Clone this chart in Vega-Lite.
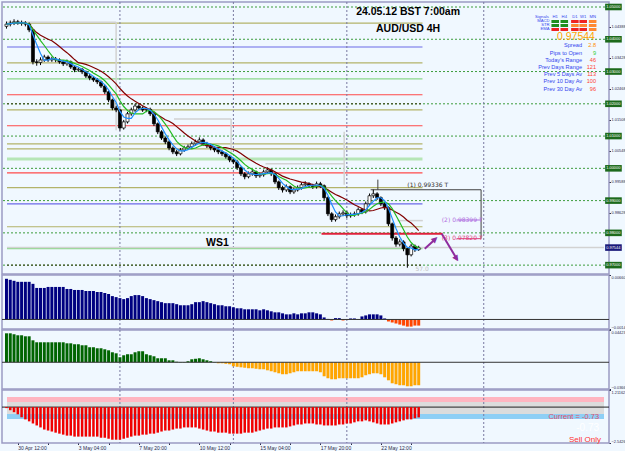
{
"$schema":"https://vega.github.io/schema/vega-lite/v6.json",
"background":"#f0f8ff",
"padding":0,
"spacing":1,
"bounds":"flush",
"config":{
 "view":{"stroke":"#9a9ac4","strokeWidth":1.5,"fill":"#f0f8ff"},
 "axis":{"labelFont":"Liberation Sans","labelFontSize":3.9,"labelColor":"#2a2a4a","tickColor":"#2a2a4a","tickSize":1.5,"labelPadding":0.5,"domain":false,"grid":false}
},
"datasets":{
 "bars":[
{"i":0,"o":1.0440,"h":1.0455,"l":1.0433,"c":1.0447,"m":0.00604,"g":0.0397,"s":-0.07},
{"i":1,"o":1.0447,"h":1.0458,"l":1.0440,"c":1.0450,"m":0.00589,"g":0.0397,"s":-0.22},
{"i":2,"o":1.0450,"h":1.0462,"l":1.0444,"c":1.0454,"m":0.00574,"g":0.0384,"s":-0.36},
{"i":3,"o":1.0454,"h":1.0460,"l":1.0445,"c":1.0451,"m":0.00559,"g":0.037,"s":-0.51},
{"i":4,"o":1.0451,"h":1.0458,"l":1.0442,"c":1.0450,"m":0.00559,"g":0.037,"s":-0.72},
{"i":5,"o":1.0450,"h":1.0456,"l":1.0440,"c":1.0447,"m":0.00559,"g":0.0356,"s":-0.87},
{"i":6,"o":1.0447,"h":1.0452,"l":1.0422,"c":1.0429,"m":0.00559,"g":0.0356,"s":-1.01},
{"i":7,"o":1.0429,"h":1.0432,"l":1.0322,"c":1.0330,"m":0.00529,"g":0.0301,"s":-1.16},
{"i":8,"o":1.0330,"h":1.0338,"l":1.0318,"c":1.0328,"m":0.00468,"g":0.0274,"s":-1.3},
{"i":9,"o":1.0328,"h":1.0344,"l":1.0320,"c":1.0336,"m":0.00468,"g":0.0274,"s":-1.44},
{"i":10,"o":1.0336,"h":1.0352,"l":1.0330,"c":1.0345,"m":0.00468,"g":0.0274,"s":-1.59},
{"i":11,"o":1.0345,"h":1.0350,"l":1.0330,"c":1.0336,"m":0.00483,"g":0.0274,"s":-1.66},
{"i":12,"o":1.0336,"h":1.0346,"l":1.0330,"c":1.0339,"m":0.00483,"g":0.0274,"s":-1.73},
{"i":13,"o":1.0339,"h":1.0345,"l":1.0329,"c":1.0336,"m":0.00483,"g":0.0274,"s":-1.81},
{"i":14,"o":1.0336,"h":1.0341,"l":1.0324,"c":1.0330,"m":0.00483,"g":0.0274,"s":-1.88},
{"i":15,"o":1.0330,"h":1.0335,"l":1.0317,"c":1.0324,"m":0.00483,"g":0.0274,"s":-1.95},
{"i":16,"o":1.0324,"h":1.0337,"l":1.0318,"c":1.0330,"m":0.00453,"g":0.026,"s":-2.02},
{"i":17,"o":1.0330,"h":1.0334,"l":1.0308,"c":1.0314,"m":0.00453,"g":0.026,"s":-2.02},
{"i":18,"o":1.0314,"h":1.0319,"l":1.0298,"c":1.0305,"m":0.00438,"g":0.0247,"s":-2.09},
{"i":19,"o":1.0305,"h":1.0313,"l":1.0299,"c":1.0307,"m":0.00438,"g":0.0247,"s":-2.09},
{"i":20,"o":1.0307,"h":1.0311,"l":1.0292,"c":1.0299,"m":0.00438,"g":0.0233,"s":-2.09},
{"i":21,"o":1.0299,"h":1.0303,"l":1.0280,"c":1.0286,"m":0.00423,"g":0.0233,"s":-2.09},
{"i":22,"o":1.0286,"h":1.0292,"l":1.0273,"c":1.0280,"m":0.00423,"g":0.0206,"s":-2.09},
{"i":23,"o":1.0280,"h":1.0286,"l":1.0268,"c":1.0274,"m":0.00423,"g":0.0206,"s":-2.09},
{"i":24,"o":1.0274,"h":1.0280,"l":1.0261,"c":1.0268,"m":0.00408,"g":0.0192,"s":-2.09},
{"i":25,"o":1.0268,"h":1.0272,"l":1.0249,"c":1.0255,"m":0.00408,"g":0.0192,"s":-2.17},
{"i":26,"o":1.0255,"h":1.0259,"l":1.0230,"c":1.0237,"m":0.00393,"g":0.0178,"s":-2.17},
{"i":27,"o":1.0237,"h":1.0241,"l":1.0205,"c":1.0212,"m":0.00378,"g":0.0164,"s":-2.24},
{"i":28,"o":1.0212,"h":1.0216,"l":1.0180,"c":1.0187,"m":0.00347,"g":0.0137,"s":-2.31},
{"i":29,"o":1.0187,"h":1.0194,"l":1.0174,"c":1.0181,"m":0.00332,"g":0.0123,"s":-2.31},
{"i":30,"o":1.0181,"h":1.0185,"l":1.0117,"c":1.0125,"m":0.00317,"g":0.0069,"s":-2.31},
{"i":31,"o":1.0125,"h":1.0150,"l":1.0120,"c":1.0144,"m":0.00302,"g":0.0096,"s":-2.24},
{"i":32,"o":1.0144,"h":1.0175,"l":1.0139,"c":1.0169,"m":0.00317,"g":0.011,"s":-2.17},
{"i":33,"o":1.0169,"h":1.0188,"l":1.0163,"c":1.0181,"m":0.00347,"g":0.011,"s":-2.09},
{"i":34,"o":1.0181,"h":1.0200,"l":1.0175,"c":1.0193,"m":0.00362,"g":0.0137,"s":-2.02},
{"i":35,"o":1.0193,"h":1.0199,"l":1.0181,"c":1.0187,"m":0.00362,"g":0.0151,"s":-2.02},
{"i":36,"o":1.0187,"h":1.0192,"l":1.0175,"c":1.0181,"m":0.00347,"g":0.0151,"s":-1.95},
{"i":37,"o":1.0181,"h":1.0190,"l":1.0174,"c":1.0183,"m":0.00317,"g":0.011,"s":-1.95},
{"i":38,"o":1.0183,"h":1.0188,"l":1.0162,"c":1.0169,"m":0.00302,"g":0.0096,"s":-1.88},
{"i":39,"o":1.0169,"h":1.0173,"l":1.0131,"c":1.0138,"m":0.00287,"g":0.0082,"s":-1.88},
{"i":40,"o":1.0138,"h":1.0142,"l":1.0106,"c":1.0113,"m":0.00272,"g":0.0055,"s":-1.81},
{"i":41,"o":1.0113,"h":1.0118,"l":1.0088,"c":1.0094,"m":0.00257,"g":0.0055,"s":-1.73},
{"i":42,"o":1.0094,"h":1.0099,"l":1.0075,"c":1.0082,"m":0.00242,"g":0.0055,"s":-1.66},
{"i":43,"o":1.0082,"h":1.0087,"l":1.0056,"c":1.0063,"m":0.00242,"g":0.0027,"s":-1.66},
{"i":44,"o":1.0063,"h":1.0068,"l":1.0044,"c":1.0051,"m":0.00242,"g":0.0027,"s":-1.59},
{"i":45,"o":1.0051,"h":1.0057,"l":1.0038,"c":1.0045,"m":0.00227,"g":0.0007,"s":-1.52},
{"i":46,"o":1.0045,"h":1.0063,"l":1.0040,"c":1.0057,"m":0.00211,"g":0.0004,"s":-1.52},
{"i":47,"o":1.0057,"h":1.0070,"l":1.0051,"c":1.0063,"m":0.00211,"g":0.0004,"s":-1.44},
{"i":48,"o":1.0063,"h":1.0074,"l":1.0057,"c":1.0067,"m":0.00211,"g":0.0014,"s":-1.44},
{"i":49,"o":1.0067,"h":1.0083,"l":1.0061,"c":1.0076,"m":0.00227,"g":0.0041,"s":-1.44},
{"i":50,"o":1.0076,"h":1.0089,"l":1.0070,"c":1.0082,"m":0.00257,"g":0.0048,"s":-1.44},
{"i":51,"o":1.0082,"h":1.0096,"l":1.0076,"c":1.0088,"m":0.00257,"g":0.0055,"s":-1.52},
{"i":52,"o":1.0088,"h":1.0093,"l":1.0070,"c":1.0076,"m":0.00272,"g":0.0041,"s":-1.59},
{"i":53,"o":1.0076,"h":1.0082,"l":1.0063,"c":1.0070,"m":0.00257,"g":0.0027,"s":-1.66},
{"i":54,"o":1.0070,"h":1.0076,"l":1.0056,"c":1.0063,"m":0.00242,"g":0.0014,"s":-1.73},
{"i":55,"o":1.0063,"h":1.0069,"l":1.0050,"c":1.0057,"m":0.00227,"g":0.0004,"s":-1.73},
{"i":56,"o":1.0057,"h":1.0062,"l":1.0044,"c":1.0051,"m":0.00211,"g":-0.0014,"s":-1.81},
{"i":57,"o":1.0051,"h":1.0056,"l":1.0038,"c":1.0045,"m":0.00211,"g":-0.0014,"s":-1.81},
{"i":58,"o":1.0045,"h":1.0050,"l":1.0030,"c":1.0036,"m":0.00196,"g":-0.0021,"s":-1.81},
{"i":59,"o":1.0036,"h":1.0041,"l":1.0019,"c":1.0026,"m":0.00196,"g":-0.0027,"s":-1.88},
{"i":60,"o":1.0026,"h":1.0032,"l":1.0013,"c":1.0020,"m":0.00181,"g":-0.0055,"s":-1.88},
{"i":61,"o":1.0020,"h":1.0025,"l":0.9995,"c":1.0002,"m":0.00166,"g":-0.0062,"s":-1.88},
{"i":62,"o":1.0002,"h":1.0006,"l":0.9976,"c":0.9983,"m":0.00166,"g":-0.0069,"s":-1.88},
{"i":63,"o":0.9983,"h":0.9988,"l":0.9966,"c":0.9974,"m":0.00151,"g":-0.0075,"s":-1.81},
{"i":64,"o":0.9974,"h":0.9990,"l":0.9969,"c":0.9983,"m":0.00151,"g":-0.0082,"s":-1.81},
{"i":65,"o":0.9983,"h":0.9996,"l":0.9977,"c":0.9989,"m":0.00151,"g":-0.0082,"s":-1.81},
{"i":66,"o":0.9989,"h":0.9993,"l":0.9970,"c":0.9977,"m":0.00151,"g":-0.0089,"s":-1.73},
{"i":67,"o":0.9977,"h":0.9987,"l":0.9971,"c":0.9980,"m":0.00136,"g":-0.0096,"s":-1.66},
{"i":68,"o":0.9980,"h":0.9996,"l":0.9974,"c":0.9989,"m":0.00151,"g":-0.0096,"s":-1.59},
{"i":69,"o":0.9989,"h":1.0003,"l":0.9983,"c":0.9995,"m":0.00136,"g":-0.011,"s":-1.52},
{"i":70,"o":0.9995,"h":0.9999,"l":0.9976,"c":0.9983,"m":0.00121,"g":-0.0123,"s":-1.52},
{"i":71,"o":0.9983,"h":0.9987,"l":0.9951,"c":0.9958,"m":0.00106,"g":-0.0137,"s":-1.44},
{"i":72,"o":0.9958,"h":0.9962,"l":0.9933,"c":0.9940,"m":0.00106,"g":-0.0151,"s":-1.44},
{"i":73,"o":0.9940,"h":0.9946,"l":0.9925,"c":0.9933,"m":0.00091,"g":-0.0164,"s":-1.44},
{"i":74,"o":0.9933,"h":0.9950,"l":0.9927,"c":0.9943,"m":0.00076,"g":-0.0164,"s":-1.44},
{"i":75,"o":0.9943,"h":0.9947,"l":0.9920,"c":0.9927,"m":0.00076,"g":-0.0151,"s":-1.37},
{"i":76,"o":0.9927,"h":0.9940,"l":0.9921,"c":0.9933,"m":0.00091,"g":-0.0137,"s":-1.3},
{"i":77,"o":0.9933,"h":0.9947,"l":0.9928,"c":0.9940,"m":0.00076,"g":-0.0123,"s":-1.23},
{"i":78,"o":0.9940,"h":0.9956,"l":0.9934,"c":0.9949,"m":0.00091,"g":-0.0123,"s":-1.23},
{"i":79,"o":0.9949,"h":0.9960,"l":0.9943,"c":0.9952,"m":0.00091,"g":-0.0123,"s":-1.16},
{"i":80,"o":0.9952,"h":0.9957,"l":0.9939,"c":0.9946,"m":0.00106,"g":-0.0123,"s":-1.16},
{"i":81,"o":0.9946,"h":0.9952,"l":0.9936,"c":0.9943,"m":0.00106,"g":-0.0123,"s":-1.16},
{"i":82,"o":0.9943,"h":0.9959,"l":0.9937,"c":0.9952,"m":0.00091,"g":-0.0123,"s":-1.23},
{"i":83,"o":0.9952,"h":0.9958,"l":0.9939,"c":0.9946,"m":0.00076,"g":-0.0137,"s":-1.23},
{"i":84,"o":0.9946,"h":0.9950,"l":0.9902,"c":0.9909,"m":0.0003,"g":-0.0192,"s":-1.3},
{"i":85,"o":0.9909,"h":0.9913,"l":0.9852,"c":0.9859,"m":0.00008,"g":-0.0219,"s":-1.3},
{"i":86,"o":0.9859,"h":0.9864,"l":0.9834,"c":0.9841,"m":-0.00015,"g":-0.0233,"s":-1.3},
{"i":87,"o":0.9841,"h":0.9857,"l":0.9835,"c":0.9850,"m":0.0002,"g":-0.0233,"s":-1.3},
{"i":88,"o":0.9850,"h":0.9866,"l":0.9844,"c":0.9859,"m":0.0002,"g":-0.0219,"s":-1.23},
{"i":89,"o":0.9859,"h":0.9870,"l":0.9852,"c":0.9862,"m":-0.00015,"g":-0.0219,"s":-1.23},
{"i":90,"o":0.9862,"h":0.9868,"l":0.9846,"c":0.9853,"m":-0.00008,"g":-0.0219,"s":-1.16},
{"i":91,"o":0.9853,"h":0.9863,"l":0.9847,"c":0.9856,"m":0.00015,"g":-0.0219,"s":-1.16},
{"i":92,"o":0.9856,"h":0.9866,"l":0.9850,"c":0.9859,"m":0.00015,"g":-0.0219,"s":-1.08},
{"i":93,"o":0.9859,"h":0.9879,"l":0.9853,"c":0.9872,"m":0.00005,"g":-0.0219,"s":-1.01},
{"i":94,"o":0.9872,"h":0.9877,"l":0.9858,"c":0.9865,"m":0.00045,"g":-0.0206,"s":-1.01},
{"i":95,"o":0.9865,"h":0.9897,"l":0.9860,"c":0.9890,"m":0.0006,"g":-0.0178,"s":-0.94},
{"i":96,"o":0.9890,"h":0.9922,"l":0.9885,"c":0.9915,"m":0.00076,"g":-0.0164,"s":-1.01},
{"i":97,"o":0.9915,"h":0.9934,"l":0.9908,"c":0.9921,"m":0.00076,"g":-0.0151,"s":-1.08},
{"i":98,"o":0.9921,"h":0.9926,"l":0.9902,"c":0.9909,"m":0.00076,"g":-0.0151,"s":-1.16},
{"i":99,"o":0.9909,"h":0.9913,"l":0.9883,"c":0.9890,"m":0.0006,"g":-0.0164,"s":-1.23},
{"i":100,"o":0.9890,"h":0.9895,"l":0.9871,"c":0.9878,"m":0.00015,"g":-0.0206,"s":-1.23},
{"i":101,"o":0.9878,"h":0.9882,"l":0.9821,"c":0.9828,"m":-0.0003,"g":-0.0247,"s":-1.23},
{"i":102,"o":0.9828,"h":0.9832,"l":0.9776,"c":0.9784,"m":-0.00045,"g":-0.0288,"s":-1.16},
{"i":103,"o":0.9784,"h":0.9790,"l":0.9757,"c":0.9765,"m":-0.0006,"g":-0.0301,"s":-1.08},
{"i":104,"o":0.9765,"h":0.9780,"l":0.9758,"c":0.9772,"m":-0.00076,"g":-0.0315,"s":-1.01},
{"i":105,"o":0.9772,"h":0.9777,"l":0.9743,"c":0.9751,"m":-0.00091,"g":-0.0315,"s":-0.94},
{"i":106,"o":0.9751,"h":0.9756,"l":0.9692,"c":0.9732,"m":-0.00106,"g":-0.0329,"s":-0.87},
{"i":107,"o":0.9732,"h":0.9766,"l":0.9727,"c":0.9759,"m":-0.00106,"g":-0.0329,"s":-0.87},
{"i":108,"o":0.9759,"h":0.9764,"l":0.9741,"c":0.9748,"m":-0.00091,"g":-0.0315,"s":-0.79},
{"i":109,"o":0.9748,"h":0.9760,"l":0.9744,"c":0.9754,"m":-0.00091,"g":-0.0315,"s":-0.73}
 ],
 "grid":[{"p":1.05},{"p":1.04},{"p":1.03},{"p":1.02},{"p":1.01},{"p":1.0},{"p":0.99},{"p":0.98},{"p":0.97}],
 "levels":[
  {"p":1.0450,"kind":"D","a":0.14,"b":110},{"p":1.0376,"kind":"Q","a":0.14,"b":110},{"p":1.0327,"kind":"D","a":0.14,"b":110},{"p":1.0277,"kind":"W","a":0.14,"b":110},
  {"p":1.0228,"kind":"M","a":0.14,"b":110},{"p":1.0181,"kind":"D","a":0.14,"b":110},{"p":1.0132,"kind":"M","a":0.14,"b":110},{"p":1.0076,"kind":"D","a":0.14,"b":110},
  {"p":1.0060,"kind":"D","a":0.14,"b":110},{"p":0.9986,"kind":"M","a":0.14,"b":110},{"p":0.9940,"kind":"D","a":0.14,"b":110},{"p":0.9890,"kind":"Q","a":0.14,"b":110},
  {"p":0.9819,"kind":"D","a":0.14,"b":110},{"p":0.9751,"kind":"W","a":0.14,"b":110},
  {"p":1.0029,"kind":"Y","a":0.14,"b":110},
  {"p":1.02,"kind":"K","a":0.14,"b":110},{"p":0.97,"kind":"K","a":0.14,"b":110},
  {"p":0.9797,"kind":"S","a":83.3,"b":115.3}
 ],
 "weeks":[{"i":30},{"i":60},{"i":90},{"i":126.2}],
 "segs":[
  {"x1":0.14,"x2":29,"y1":1.0453,"y2":1.0453,"kind":"day"},{"x1":29,"x2":29,"y1":1.0453,"y2":1.0118,"kind":"day"},
  {"x1":44.3,"x2":59.4,"y1":1.0153,"y2":1.0153,"kind":"day"},{"x1":59.4,"x2":59.4,"y1":1.0153,"y2":1.0026,"kind":"day"},
  {"x1":68.5,"x2":89.3,"y1":1.0014,"y2":1.0014,"kind":"day"},{"x1":89.3,"x2":89.3,"y1":1.0113,"y2":0.9949,"kind":"day"},
  {"x1":103.4,"x2":110.1,"y1":0.9838,"y2":0.9838,"kind":"day"},
  {"x1":0.14,"x2":158,"y1":0.97544,"y2":0.97544,"kind":"day"},
  {"x1":96.3,"x2":125.5,"y1":0.99336,"y2":0.99336,"kind":"T1"},
  {"x1":125.5,"x2":125.5,"y1":0.99336,"y2":0.9782,"kind":"T1"},
  {"x1":98.2,"x2":98.2,"y1":0.9965,"y2":0.99336,"kind":"T1"},
  {"x1":119,"x2":125.5,"y1":0.98399,"y2":0.98399,"kind":"T2"},
  {"x1":119,"x2":125.5,"y1":0.9782,"y2":0.9782,"kind":"T3"},
  {"x1":110.6,"x2":113.5,"y1":0.9751,"y2":0.9782,"kind":"arrow"},
  {"x1":115.1,"x2":119.2,"y1":0.9797,"y2":0.9717,"kind":"arrow"}
 ],
 "notes":[
  {"t":"(1) 0.99336  T","ix":106,"p":0.9949,"kind":"T1"},
  {"t":"(2) 0.98399  T","ix":115.1,"p":0.98405,"kind":"T2"},
  {"t":"(3) 0.97820  T","ix":115.1,"p":0.97848,"kind":"T3"},
  {"t":"57.0","ix":109.9,"p":0.9689,"kind":"faint"},
  {"t":"WS1","ix":55.8,"p":0.97693,"kind":"big"},
  {"t":"24.05.12   BST 7:00am","ix":106.2,"p":1.04845,"kind":"big"},
  {"t":"AUD/USD  4H","ix":106.2,"p":1.04319,"kind":"big"},
  {"t":"0.97544","ix":155.6,"p":1.04071,"kind":"price"},
  {"t":"Signals","ix":143.4,"p":1.0469,"kind":"sig"},
  {"t":"MACD","ix":143.6,"p":1.04551,"kind":"sig"},
  {"t":"STR","ix":143.6,"p":1.04427,"kind":"sig"},
  {"t":"EMA","ix":143.6,"p":1.04303,"kind":"sig"},
  {"t":"Spread","ix":152.2,"p":1.03814,"kind":"lab"},
  {"t":"Pips to Open","ix":152.2,"p":1.03585,"kind":"lab"},
  {"t":"Today’s Range","ix":152.2,"p":1.03368,"kind":"lab"},
  {"t":"Prev Days Range","ix":152.2,"p":1.03142,"kind":"lab"},
  {"t":"Prev 5 Days Av","ix":152.2,"p":1.02916,"kind":"lab"},
  {"t":"Prev 10 Day Av","ix":152.2,"p":1.0270,"kind":"lab"},
  {"t":"Prev 30 Day Av","ix":152.2,"p":1.02471,"kind":"lab"},
  {"t":"2.8","ix":155.9,"p":1.03814,"kind":"spread"},
  {"t":"9","ix":155.9,"p":1.03585,"kind":"open"},
  {"t":"46","ix":155.9,"p":1.03368,"kind":"range"},
  {"t":"121","ix":155.9,"p":1.03142,"kind":"range"},
  {"t":"113","ix":155.9,"p":1.02916,"kind":"range"},
  {"t":"100","ix":155.9,"p":1.0270,"kind":"range"},
  {"t":"96","ix":155.9,"p":1.02471,"kind":"range"},
  {"t":"H1","ix":145.1,"p":1.0469,"kind":"head"},
  {"t":"H4","ix":147.5,"p":1.0469,"kind":"head"},
  {"t":"D1","ix":150.3,"p":1.0469,"kind":"head"},
  {"t":"W1","ix":152.5,"p":1.0469,"kind":"head"},
  {"t":"MN","ix":155,"p":1.0469,"kind":"head"},
  {"t":"▲","ix":113.3,"p":0.9780,"kind":"up"},
  {"t":"▲","ix":119.0,"p":0.9720,"kind":"down"}
 ],
 "sig":[
  {"x1":144.1,"x2":146.1,"y1":1.04505,"y2":1.04597,"state":"buy"},{"x1":146.5,"x2":148.5,"y1":1.04505,"y2":1.04597,"state":"buy"},{"x1":149.3,"x2":151.3,"y1":1.04505,"y2":1.04597,"state":"sell"},{"x1":151.5,"x2":153.5,"y1":1.04505,"y2":1.04597,"state":"sell"},{"x1":154,"x2":156,"y1":1.04505,"y2":1.04597,"state":"weak"},
  {"x1":144.1,"x2":146.1,"y1":1.04381,"y2":1.04473,"state":"buy"},{"x1":146.5,"x2":148.5,"y1":1.04381,"y2":1.04473,"state":"buy"},{"x1":149.3,"x2":151.3,"y1":1.04381,"y2":1.04473,"state":"weak"},{"x1":151.5,"x2":153.5,"y1":1.04381,"y2":1.04473,"state":"weak"},{"x1":154,"x2":156,"y1":1.04381,"y2":1.04473,"state":"weak"},
  {"x1":144.1,"x2":146.1,"y1":1.04257,"y2":1.04349,"state":"sell"},{"x1":146.5,"x2":148.5,"y1":1.04257,"y2":1.04349,"state":"sell"},{"x1":149.3,"x2":151.3,"y1":1.04257,"y2":1.04349,"state":"sell"},{"x1":151.5,"x2":153.5,"y1":1.04257,"y2":1.04349,"state":"sell"},{"x1":154,"x2":156,"y1":1.04257,"y2":1.04349,"state":"weak"}
 ],
 "tags":[
  {"t":"1.05000","a":158.3,"b":162.7,"mid":160.45,"lo":1.04898,"hi":1.05102,"p":1.05,"kind":"round"},
  {"t":"1.04000","a":158.3,"b":162.7,"mid":160.45,"lo":1.03898,"hi":1.04102,"p":1.04,"kind":"round"},
  {"t":"1.03000","a":158.3,"b":162.7,"mid":160.45,"lo":1.02898,"hi":1.03102,"p":1.03,"kind":"round"},
  {"t":"1.02000","a":158.3,"b":162.7,"mid":160.45,"lo":1.01898,"hi":1.02102,"p":1.02,"kind":"round"},
  {"t":"1.01000","a":158.3,"b":162.7,"mid":160.45,"lo":1.00898,"hi":1.01102,"p":1.01,"kind":"round"},
  {"t":"1.00000","a":158.3,"b":162.7,"mid":160.45,"lo":0.99898,"hi":1.00102,"p":1.0,"kind":"round"},
  {"t":"0.99000","a":158.3,"b":162.7,"mid":160.45,"lo":0.98898,"hi":0.99102,"p":0.99,"kind":"round"},
  {"t":"0.98000","a":158.3,"b":162.7,"mid":160.45,"lo":0.97898,"hi":0.98102,"p":0.98,"kind":"round"},
  {"t":"0.97000","a":158.3,"b":162.7,"mid":160.45,"lo":0.96898,"hi":0.97102,"p":0.97,"kind":"round"},
  {"t":"0.97544","a":158.3,"b":162.7,"mid":160.45,"lo":0.97442,"hi":0.97646,"p":0.97544,"kind":"bid"}
 ],
 "zero":[{"z":0}],
 "bands":[{"a":0.14,"b":158,"y1":0.72,"y2":0.36,"kind":"pink"},{"a":0.14,"b":158,"y1":0.36,"y2":-0.49,"kind":"gray"},{"a":0.14,"b":158,"y1":-0.49,"y2":-0.85,"kind":"blue"}],
 "p4notes":[{"t":"Current = -0.73","ix":156.7,"v":-0.7,"kind":"cur"},{"t":"-0.73","ix":156.7,"v":-1.48,"kind":"val"},{"t":"Sell Only","ix":157.2,"v":-2.33,"kind":"sell"}]
},
"vconcat":[
 {
  "width":607,"height":272,
  "layer":[
   {"data":{"name":"grid"},"mark":{"type":"rule","color":"#3c9c3c","strokeDash":[2,2],"strokeWidth":1},
    "encoding":{"y":{"field":"p","type":"quantitative","scale":{"domain":[0.96725,1.05155],"nice":false,"zero":false},
      "axis":{"orient":"right","title":null,"format":".5f","values":[0.98628,0.99588,1.00548,1.01508,1.02468,1.03428,1.04388]}}}},
   {"data":{"name":"levels"},"transform":[{"filter":"datum.kind=='D'"}],"mark":{"type":"rule","strokeWidth":1.2,"color":"#b3b36a","clip":true},
    "encoding":{"x":{"field":"a","type":"quantitative","scale":{"domain":[0.14,158],"nice":false,"zero":false},"axis":null},
     "x2":{"field":"b"},"y":{"field":"p","type":"quantitative"}}},
   {"data":{"name":"levels"},"transform":[{"filter":"datum.kind=='Q'"}],"mark":{"type":"rule","strokeWidth":1.2,"color":"#6a6ae8","clip":true},
    "encoding":{"x":{"field":"a","type":"quantitative"},"x2":{"field":"b"},"y":{"field":"p","type":"quantitative"}}},
   {"data":{"name":"levels"},"transform":[{"filter":"datum.kind=='W'"}],"mark":{"type":"rule","strokeWidth":1.2,"color":"#8cd88c","clip":true},
    "encoding":{"x":{"field":"a","type":"quantitative"},"x2":{"field":"b"},"y":{"field":"p","type":"quantitative"}}},
   {"data":{"name":"levels"},"transform":[{"filter":"datum.kind=='M'"}],"mark":{"type":"rule","strokeWidth":1.2,"color":"#ff4a4a","clip":true},
    "encoding":{"x":{"field":"a","type":"quantitative"},"x2":{"field":"b"},"y":{"field":"p","type":"quantitative"}}},
   {"data":{"name":"levels"},"transform":[{"filter":"datum.kind=='Y'"}],"mark":{"type":"rule","strokeWidth":3,"color":"#b6e6b6","clip":true},
    "encoding":{"x":{"field":"a","type":"quantitative"},"x2":{"field":"b"},"y":{"field":"p","type":"quantitative"}}},
   {"data":{"name":"levels"},"transform":[{"filter":"datum.kind=='K'"}],"mark":{"type":"rule","strokeWidth":1,"color":"#3a3a10","strokeDash":[2,2],"clip":true},
    "encoding":{"x":{"field":"a","type":"quantitative"},"x2":{"field":"b"},"y":{"field":"p","type":"quantitative"}}},
   {"data":{"name":"weeks"},"mark":{"type":"rule","color":"#7878a0","strokeDash":[2,2],"strokeWidth":1},
    "encoding":{"x":{"field":"i","type":"quantitative"}}},
   {"data":{"name":"segs"},"transform":[{"filter":"datum.kind=='day'"}],"mark":{"type":"rule","color":"#d2d2d2","strokeWidth":1.5,"clip":true},
    "encoding":{"x":{"field":"x1","type":"quantitative"},"x2":{"field":"x2"},"y":{"field":"y1","type":"quantitative"},"y2":{"field":"y2"}}},
   {"data":{"name":"levels"},"transform":[{"filter":"datum.kind=='S'"}],"mark":{"type":"rule","strokeWidth":2,"color":"#e0203a","clip":true},
    "encoding":{"x":{"field":"a","type":"quantitative"},"x2":{"field":"b"},"y":{"field":"p","type":"quantitative"}}},
   {"data":{"name":"segs"},"transform":[{"filter":"datum.kind=='T1'"}],"mark":{"type":"rule","strokeWidth":1,"color":"#404040"},
    "encoding":{"x":{"field":"x1","type":"quantitative"},"x2":{"field":"x2"},"y":{"field":"y1","type":"quantitative"},"y2":{"field":"y2"}}},
   {"data":{"name":"segs"},"transform":[{"filter":"datum.kind=='T2'"}],"mark":{"type":"rule","strokeWidth":1,"color":"#b070e0"},
    "encoding":{"x":{"field":"x1","type":"quantitative"},"x2":{"field":"x2"},"y":{"field":"y1","type":"quantitative"},"y2":{"field":"y2"}}},
   {"data":{"name":"segs"},"transform":[{"filter":"datum.kind=='T3'"}],"mark":{"type":"rule","strokeWidth":1,"color":"#e0407a"},
    "encoding":{"x":{"field":"x1","type":"quantitative"},"x2":{"field":"x2"},"y":{"field":"y1","type":"quantitative"},"y2":{"field":"y2"}}},
   {"data":{"name":"bars"},"mark":{"type":"rule","color":"#000000","strokeWidth":1,"clip":true},
    "encoding":{"x":{"field":"i","type":"quantitative"},"y":{"field":"l","type":"quantitative"},"y2":{"field":"h"}}},
   {"data":{"name":"bars"},"mark":{"type":"bar","width":3,"stroke":"#000000","strokeWidth":0.7,"clip":true},
    "encoding":{"x":{"field":"i","type":"quantitative"},"y":{"field":"o","type":"quantitative"},"y2":{"field":"c"},
     "fill":{"condition":{"test":"datum.c>=datum.o","value":"#ffffff"},"value":"#000000"}}},
   {"data":{"name":"bars"},"transform":[{"window":[{"op":"mean","field":"c","as":"ma"}],"frame":[-12,0],"sort":[{"field":"i"}]}],
    "mark":{"type":"line","color":"#800000","strokeWidth":1.2,"clip":true},
    "encoding":{"x":{"field":"i","type":"quantitative"},"y":{"field":"ma","type":"quantitative"}}},
   {"data":{"name":"bars"},"transform":[{"window":[{"op":"mean","field":"c","as":"ma"}],"frame":[-6,0],"sort":[{"field":"i"}]}],
    "mark":{"type":"line","color":"#22bb22","strokeWidth":1.2,"clip":true},
    "encoding":{"x":{"field":"i","type":"quantitative"},"y":{"field":"ma","type":"quantitative"}}},
   {"data":{"name":"bars"},"transform":[{"window":[{"op":"mean","field":"c","as":"ma"}],"frame":[-3,0],"sort":[{"field":"i"}]}],
    "mark":{"type":"line","color":"#1e90ff","strokeWidth":1.2,"clip":true},
    "encoding":{"x":{"field":"i","type":"quantitative"},"y":{"field":"ma","type":"quantitative"}}},
   {"data":{"name":"segs"},"transform":[{"filter":"datum.kind=='arrow'"}],"mark":{"type":"rule","color":"#8e2c9e","strokeWidth":2},
    "encoding":{"x":{"field":"x1","type":"quantitative"},"x2":{"field":"x2"},"y":{"field":"y1","type":"quantitative"},"y2":{"field":"y2"}}},
   {"data":{"name":"notes"},"transform":[{"filter":"datum.kind=='up'"}],"mark":{"type":"text","fontSize":8,"color":"#8e2c9e","angle":48,"baseline":"middle","font":"DejaVu Sans"},
    "encoding":{"x":{"field":"ix","type":"quantitative"},"y":{"field":"p","type":"quantitative"},"text":{"field":"t"}}},
   {"data":{"name":"notes"},"transform":[{"filter":"datum.kind=='down'"}],"mark":{"type":"text","fontSize":8,"color":"#8e2c9e","angle":148,"baseline":"middle","font":"DejaVu Sans"},
    "encoding":{"x":{"field":"ix","type":"quantitative"},"y":{"field":"p","type":"quantitative"},"text":{"field":"t"}}},
   {"data":{"name":"notes"},"transform":[{"filter":"datum.kind=='T1'"}],"mark":{"type":"text","align":"left","baseline":"middle","fontSize":6,"font":"DejaVu Sans","color":"#303030"},
    "encoding":{"x":{"field":"ix","type":"quantitative"},"y":{"field":"p","type":"quantitative"},"text":{"field":"t"}}},
   {"data":{"name":"notes"},"transform":[{"filter":"datum.kind=='T2'"}],"mark":{"type":"text","align":"left","baseline":"middle","fontSize":6,"font":"DejaVu Sans","color":"#b070e0"},
    "encoding":{"x":{"field":"ix","type":"quantitative"},"y":{"field":"p","type":"quantitative"},"text":{"field":"t"}}},
   {"data":{"name":"notes"},"transform":[{"filter":"datum.kind=='T3'"}],"mark":{"type":"text","align":"left","baseline":"middle","fontSize":6,"font":"DejaVu Sans","color":"#e0407a"},
    "encoding":{"x":{"field":"ix","type":"quantitative"},"y":{"field":"p","type":"quantitative"},"text":{"field":"t"}}},
   {"data":{"name":"notes"},"transform":[{"filter":"datum.kind=='faint'"}],"mark":{"type":"text","fontSize":6,"color":"#c4c4c4","font":"DejaVu Sans"},
    "encoding":{"x":{"field":"ix","type":"quantitative"},"y":{"field":"p","type":"quantitative"},"text":{"field":"t"}}},
   {"data":{"name":"notes"},"transform":[{"filter":"datum.kind=='big'"}],"mark":{"type":"text","fontSize":10.5,"fontWeight":"bold","color":"#000000","baseline":"middle","font":"Liberation Sans"},
    "encoding":{"x":{"field":"ix","type":"quantitative"},"y":{"field":"p","type":"quantitative"},"text":{"field":"t"}}},
   {"data":{"name":"notes"},"transform":[{"filter":"datum.kind=='price'"}],"mark":{"type":"text","align":"right","baseline":"middle","fontSize":10.5,"color":"#ffa500","font":"Liberation Sans"},
    "encoding":{"x":{"field":"ix","type":"quantitative"},"y":{"field":"p","type":"quantitative"},"text":{"field":"t"}}},
   {"data":{"name":"notes"},"transform":[{"filter":"datum.kind=='sig'"}],"mark":{"type":"text","align":"right","baseline":"middle","fontSize":4.2,"color":"#3344ee","font":"Liberation Sans"},
    "encoding":{"x":{"field":"ix","type":"quantitative"},"y":{"field":"p","type":"quantitative"},"text":{"field":"t"}}},
   {"data":{"name":"notes"},"transform":[{"filter":"datum.kind=='head'"}],"mark":{"type":"text","baseline":"middle","fontSize":4.2,"color":"#3344ee","font":"Liberation Sans"},
    "encoding":{"x":{"field":"ix","type":"quantitative"},"y":{"field":"p","type":"quantitative"},"text":{"field":"t"}}},
   {"data":{"name":"notes"},"transform":[{"filter":"datum.kind=='lab'"}],"mark":{"type":"text","align":"right","baseline":"middle","fontSize":5.6,"color":"#3344ee","font":"Liberation Sans"},
    "encoding":{"x":{"field":"ix","type":"quantitative"},"y":{"field":"p","type":"quantitative"},"text":{"field":"t"}}},
   {"data":{"name":"notes"},"transform":[{"filter":"datum.kind=='spread'"}],"mark":{"type":"text","align":"right","baseline":"middle","fontSize":5.6,"color":"#ff8c00","font":"Liberation Sans"},
    "encoding":{"x":{"field":"ix","type":"quantitative"},"y":{"field":"p","type":"quantitative"},"text":{"field":"t"}}},
   {"data":{"name":"notes"},"transform":[{"filter":"datum.kind=='open'"}],"mark":{"type":"text","align":"right","baseline":"middle","fontSize":5.6,"color":"#33cc33","font":"Liberation Sans"},
    "encoding":{"x":{"field":"ix","type":"quantitative"},"y":{"field":"p","type":"quantitative"},"text":{"field":"t"}}},
   {"data":{"name":"notes"},"transform":[{"filter":"datum.kind=='range'"}],"mark":{"type":"text","align":"right","baseline":"middle","fontSize":5.6,"color":"#ff4433","font":"Liberation Sans"},
    "encoding":{"x":{"field":"ix","type":"quantitative"},"y":{"field":"p","type":"quantitative"},"text":{"field":"t"}}},
   {"data":{"name":"sig"},"transform":[{"filter":"datum.state=='buy'"}],"mark":{"type":"rect","color":"#1f8f1f"},
    "encoding":{"x":{"field":"x1","type":"quantitative"},"x2":{"field":"x2"},"y":{"field":"y1","type":"quantitative"},"y2":{"field":"y2"}}},
   {"data":{"name":"sig"},"transform":[{"filter":"datum.state=='sell'"}],"mark":{"type":"rect","color":"#ee2222"},
    "encoding":{"x":{"field":"x1","type":"quantitative"},"x2":{"field":"x2"},"y":{"field":"y1","type":"quantitative"},"y2":{"field":"y2"}}},
   {"data":{"name":"sig"},"transform":[{"filter":"datum.state=='weak'"}],"mark":{"type":"rect","color":"#ff8833"},
    "encoding":{"x":{"field":"x1","type":"quantitative"},"x2":{"field":"x2"},"y":{"field":"y1","type":"quantitative"},"y2":{"field":"y2"}}},
   {"data":{"name":"tags"},"transform":[{"filter":"datum.kind=='round'"}],"mark":{"type":"rect","color":"#1c6a1c"},
    "encoding":{"x":{"field":"a","type":"quantitative"},"x2":{"field":"b"},"y":{"field":"lo","type":"quantitative"},"y2":{"field":"hi"}}},
   {"data":{"name":"tags"},"transform":[{"filter":"datum.kind=='bid'"}],"mark":{"type":"rect","color":"#1a1a7a"},
    "encoding":{"x":{"field":"a","type":"quantitative"},"x2":{"field":"b"},"y":{"field":"lo","type":"quantitative"},"y2":{"field":"hi"}}},
   {"data":{"name":"tags"},"mark":{"type":"text","fontSize":3.9,"color":"#ffffff","font":"Liberation Sans","baseline":"middle"},
    "encoding":{"x":{"field":"mid","type":"quantitative"},"y":{"field":"p","type":"quantitative"},"text":{"field":"t"}}}
  ]
 },
 {
  "width":607,"height":54,
  "layer":[
   {"data":{"name":"weeks"},"mark":{"type":"rule","color":"#7878a0","strokeDash":[2,2],"strokeWidth":1},
    "encoding":{"x":{"field":"i","type":"quantitative","scale":{"domain":[0.14,158],"nice":false,"zero":false},"axis":null}}},
   {"data":{"name":"bars"},"mark":{"type":"bar","width":3,"clip":true},
    "encoding":{"x":{"field":"i","type":"quantitative"},
     "y":{"field":"m","type":"quantitative","scale":{"domain":[-0.001417,0.006603],"nice":false,"zero":false},
      "axis":{"orient":"right","title":null,"values":[-0.001417,0,0.006603],"format":".6f","labelFlush":true,"labelExpr":"datum.value==0?'0.00':datum.label"}},
     "y2":{"datum":0},
     "color":{"condition":{"test":"datum.m>=0","value":"#000080"},"value":"#ff4500"}}},
   {"data":{"name":"zero"},"mark":{"type":"rule","color":"#333333","strokeWidth":1},"encoding":{"y":{"field":"z","type":"quantitative"}}}
  ]
 },
 {
  "width":607,"height":59,
  "layer":[
   {"data":{"name":"weeks"},"mark":{"type":"rule","color":"#7878a0","strokeDash":[2,2],"strokeWidth":1},
    "encoding":{"x":{"field":"i","type":"quantitative","scale":{"domain":[0.14,158],"nice":false,"zero":false},"axis":null}}},
   {"data":{"name":"bars"},"mark":{"type":"bar","width":3,"clip":true},
    "encoding":{"x":{"field":"i","type":"quantitative"},
     "y":{"field":"g","type":"quantitative","scale":{"domain":[-0.03664,0.044231],"nice":false,"zero":false},
      "axis":{"orient":"right","title":null,"values":[-0.03664,0,0.044231],"format":".6f","labelFlush":true,"labelExpr":"datum.value==0?'0.00':datum.label"}},
     "y2":{"datum":0},
     "color":{"condition":{"test":"datum.g>=0","value":"#006400"},"value":"#ffa500"}}},
   {"data":{"name":"zero"},"mark":{"type":"rule","color":"#333333","strokeWidth":1},"encoding":{"y":{"field":"z","type":"quantitative"}}}
  ]
 },
 {
  "width":607,"height":53,
  "layer":[
   {"data":{"name":"bands"},"transform":[{"filter":"datum.kind=='pink'"}],"mark":{"type":"rect","color":"#ffb6c1"},
    "encoding":{"x":{"field":"a","type":"quantitative","scale":{"domain":[0.14,158],"nice":false,"zero":false},
      "axis":{"orient":"bottom","title":null,"values":[3,11,19,27,35,43,51,59,67,75,83,91,99,107],"labelAlign":"left","labelFontSize":5,
       "labelExpr":"datum.value==3?'30 Apr 12:00':datum.value==11?'1 May 20:00':datum.value==19?'3 May 04:00':datum.value==27?'4 May 12:00':datum.value==35?'7 May 20:00':datum.value==43?'9 May 04:00':datum.value==51?'10 May 12:00':datum.value==59?'11 May 20:00':datum.value==67?'15 May 04:00':datum.value==75?'16 May 12:00':datum.value==83?'17 May 20:00':datum.value==91?'21 May 04:00':datum.value==99?'22 May 12:00':'23 May 20:00'"}},
     "x2":{"field":"b"},
     "y":{"field":"y1","type":"quantitative","scale":{"domain":[-2.54264,1.21162],"nice":false,"zero":false},
      "axis":{"orient":"right","title":null,"values":[-2.54264,0,1.21162],"format":".5f","labelFlush":true,"labelExpr":"datum.value==0?'0.00':datum.label"}},
     "y2":{"field":"y2"}}},
   {"data":{"name":"bands"},"transform":[{"filter":"datum.kind=='gray'"}],"mark":{"type":"rect","color":"#dcdcdc"},
    "encoding":{"x":{"field":"a","type":"quantitative"},"x2":{"field":"b"},"y":{"field":"y1","type":"quantitative"},"y2":{"field":"y2"}}},
   {"data":{"name":"bands"},"transform":[{"filter":"datum.kind=='blue'"}],"mark":{"type":"rect","color":"#8ecff5"},
    "encoding":{"x":{"field":"a","type":"quantitative"},"x2":{"field":"b"},"y":{"field":"y1","type":"quantitative"},"y2":{"field":"y2"}}},
   {"data":{"name":"weeks"},"mark":{"type":"rule","color":"#7878a0","strokeDash":[2,2],"strokeWidth":1},
    "encoding":{"x":{"field":"i","type":"quantitative"}}},
   {"data":{"name":"zero"},"mark":{"type":"rule","color":"#222222","strokeWidth":1},"encoding":{"y":{"field":"z","type":"quantitative"}}},
   {"data":{"name":"bars"},"mark":{"type":"bar","width":2.5,"color":"#f00000","clip":true},
    "encoding":{"x":{"field":"i","type":"quantitative"},"y":{"field":"s","type":"quantitative"},"y2":{"datum":0}}},
   {"data":{"name":"p4notes"},"transform":[{"filter":"datum.kind=='cur'"}],"mark":{"type":"text","align":"right","baseline":"middle","fontSize":7.5,"color":"#e0506a","font":"Liberation Sans"},
    "encoding":{"x":{"field":"ix","type":"quantitative"},"y":{"field":"v","type":"quantitative"},"text":{"field":"t"}}},
   {"data":{"name":"p4notes"},"transform":[{"filter":"datum.kind=='val'"}],"mark":{"type":"text","align":"right","baseline":"middle","fontSize":10,"color":"#ffffff","font":"Liberation Sans"},
    "encoding":{"x":{"field":"ix","type":"quantitative"},"y":{"field":"v","type":"quantitative"},"text":{"field":"t"}}},
   {"data":{"name":"p4notes"},"transform":[{"filter":"datum.kind=='sell'"}],"mark":{"type":"text","align":"right","baseline":"middle","fontSize":8,"color":"#ff3333","font":"Liberation Sans"},
    "encoding":{"x":{"field":"ix","type":"quantitative"},"y":{"field":"v","type":"quantitative"},"text":{"field":"t"}}}
  ]
 }
]
}
